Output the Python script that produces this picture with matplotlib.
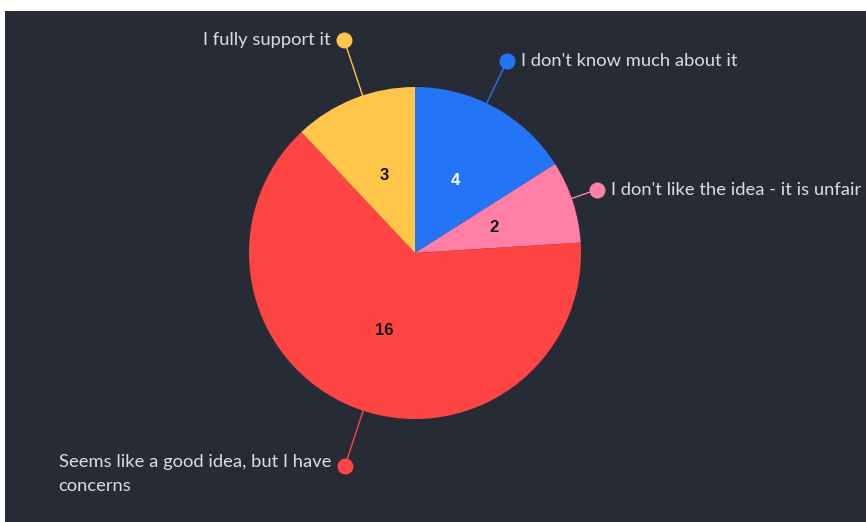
import numpy as np
import matplotlib
matplotlib.use('Agg')
import matplotlib.pyplot as plt
from matplotlib.patches import Rectangle

# ── Data ──────────────────────────────────────────────────────────────────────
labels = ["I don't know much about it",
          "I don't like the idea - it is unfair",
          "Seems like a good idea, but I have\nconcerns",
          "I fully support it"]
values = [4, 2, 16, 3]
colors = ['#2474F6', '#FF7FA6', '#FF4444', '#FFC64A']
value_text_colors = ['white', '#111111', '#111111', '#111111']

# label layout: (angle shift from slice middle in deg, radius factor, side)
label_layout = [(3.2, 1.28, 'right'),
                (1.2, 1.16, 'right'),
                (3.4, 1.35, 'left'),
                (-3.2, 1.35, 'left')]

BG = '#272B36'
TXT = '#DCDCE0'

W, H = 866, 522
fig = plt.figure(figsize=(W / 100, H / 100), dpi=100)
fig.patch.set_facecolor('white')
fig.add_artist(Rectangle((5 / W, 0), 1, 1 - 11 / H, transform=fig.transFigure,
                         facecolor=BG, edgecolor='none', zorder=0))

cx, cy, R = 415, 253, 166
ax = fig.add_axes([(cx - R) / W, (H - cy - R) / H, 2 * R / W, 2 * R / H])

wedges, _, autotexts = ax.pie(values, colors=colors, startangle=90, counterclock=False,
                              radius=1, autopct=lambda p: f'{p * sum(values) / 100:.0f}',
                              pctdistance=0.5, wedgeprops=dict(linewidth=0),
                              textprops=dict(fontsize=12, fontweight='bold',
                                             family='Liberation Sans'))
ax.set_xlim(-1, 1)
ax.set_ylim(-1, 1)
ax.axis('off')
for t, c in zip(autotexts, value_text_colors):
    t.set_color(c)

for w, lab, col, (dang, rf, side) in zip(wedges, labels, colors, label_layout):
    mid = np.deg2rad((w.theta1 + w.theta2) / 2 + dang)
    ex, ey = np.cos(mid), np.sin(mid)
    dx, dy = rf * ex, rf * ey
    ax.plot([ex, dx], [ey, dy], color=col, lw=1, clip_on=False, zorder=3)
    ax.plot(dx, dy, 'o', ms=11.5, color=col, mec='none', clip_on=False, zorder=4)
    if side == 'right':
        ax.annotate(lab, (dx, dy), xytext=(14, 0), textcoords='offset pixels',
                    ha='left', va='center', color=TXT, fontsize=13.2, family='Lato',
                    annotation_clip=False)
    else:
        nl = lab.count('\n')
        ax.annotate(lab, (dx, dy), xytext=(-14, 12 if nl else 0), textcoords='offset pixels',
                    ha='right', va='top' if nl else 'center', multialignment='left',
                    color=TXT, fontsize=13.2, family='Lato', linespacing=1.6,
                    annotation_clip=False)

plt.savefig('out.png', dpi=100, facecolor='white')
